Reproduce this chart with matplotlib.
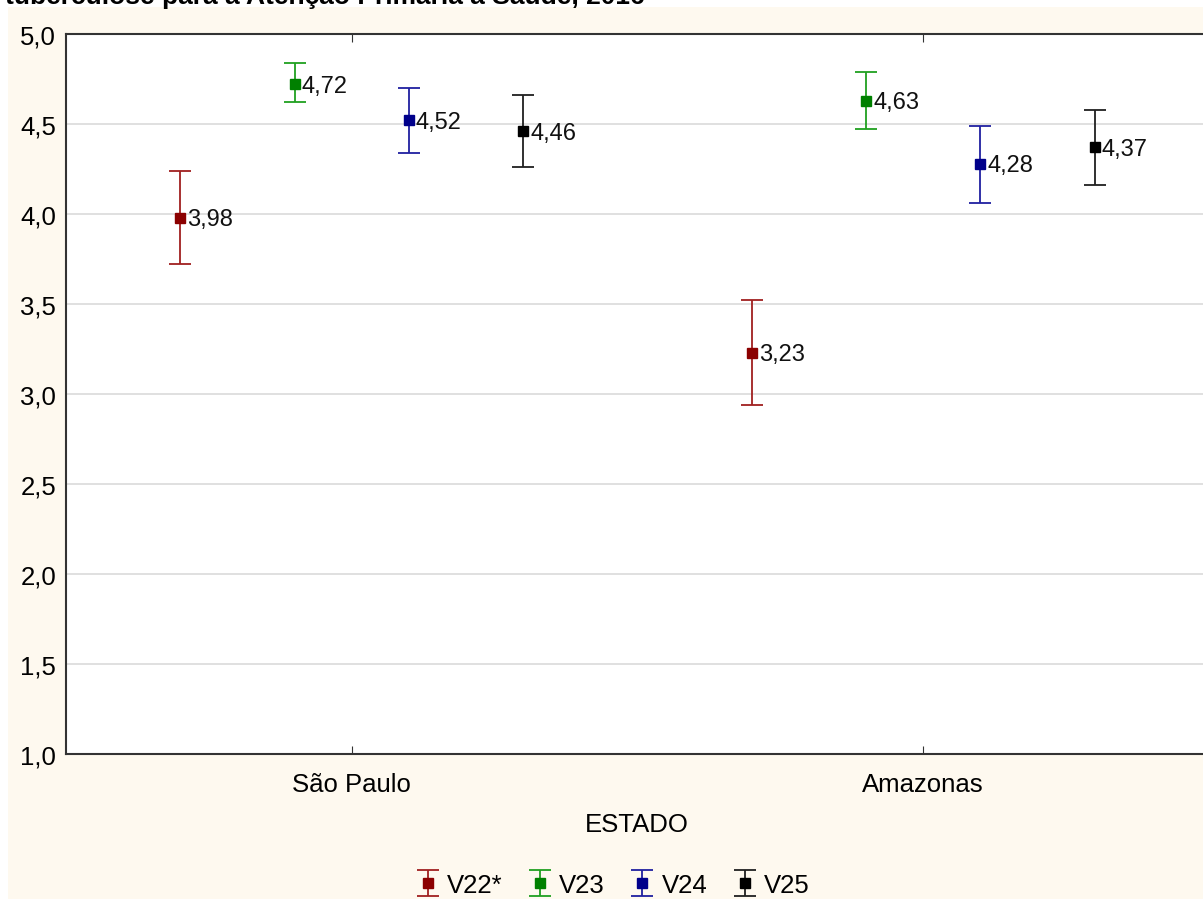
import matplotlib
matplotlib.use("Agg")
import matplotlib.pyplot as plt
from matplotlib.patches import Rectangle
import numpy as np

plt.rcParams['font.family'] = ['Liberation Sans', 'DejaVu Sans']

states = ["São Paulo", "Amazonas"]
series = ["V22*", "V23", "V24", "V25"]
means = {
    "V22*": [3.98, 3.23],
    "V23": [4.72, 4.63],
    "V24": [4.52, 4.28],
    "V25": [4.46, 4.37],
}
lower = {
    "V22*": [3.72, 2.94],
    "V23": [4.62, 4.47],
    "V24": [4.34, 4.06],
    "V25": [4.26, 4.16],
}
upper = {
    "V22*": [4.24, 3.52],
    "V23": [4.84, 4.79],
    "V24": [4.70, 4.49],
    "V25": [4.66, 4.58],
}
labels = {
    "V22*": ["3,98", "3,23"],
    "V23": ["4,72", "4,63"],
    "V24": ["4,52", "4,28"],
    "V25": ["4,46", "4,37"],
}
colors = {"V22*": "#8B0000", "V23": "#008000", "V24": "#00008B", "V25": "#000000"}
line_colors = {"V22*": "#A02020", "V23": "#20A020", "V24": "#2020A0", "V25": "#202020"}
offsets = [-0.3, -0.1, 0.1, 0.3]

W, H = 1203, 904
fig = plt.figure(figsize=(W / 100, H / 100), dpi=100, facecolor="white")
fig.patches.append(Rectangle((8 / W, 4 / H), 1 - 8 / W, 1 - 12 / H, transform=fig.transFigure,
                             facecolor="#FEF9EF", edgecolor="none", zorder=-10))

# partially visible title at top
fig.text(5 / W, 1 - 4 / H, "tuberculose para a Atenção Primária à Saúde, 2016",
         fontsize=19, fontweight="bold", ha="left", va="baseline")

left, right = 66, 1209
top, bottom = 35, 755
ax = fig.add_axes([left / W, 1 - bottom / H, (right - left) / W, (bottom - top) / H])
ax.set_facecolor("white")

x = np.arange(len(states))
for s, off in zip(series, offsets):
    m = np.array(means[s])
    lo = np.array(lower[s])
    up = np.array(upper[s])
    ax.errorbar(x + off, m, yerr=[m - lo, up - m], fmt="s", color=colors[s],
                ecolor=line_colors[s], elinewidth=1.3, capsize=8, capthick=1.3,
                markersize=7, label=s, zorder=3)
    for xi, mi, lab in zip(x + off, m, labels[s]):
        ax.annotate(lab, (xi, mi), xytext=(5, -1), textcoords="offset points",
                    ha="left", va="center", fontsize=17, color="#111111", zorder=4)

ax.set_xlim(-0.5, 1.5)
ax.set_ylim(1.0, 5.0)
yt = np.arange(1.0, 5.01, 0.5)
ax.set_yticks(yt)
ax.set_yticklabels([f"{v:.1f}".replace(".", ",") for v in yt], fontsize=18.5)
ax.set_xticks(x)
ax.set_xticklabels(states, fontsize=18.5)
ax.tick_params(axis="x", direction="in", length=6, top=True, pad=13, color="#333333")
ax.tick_params(axis="y", length=0, pad=7)
ax.grid(axis="y", color="#DDDDDD", linewidth=1.3, zorder=0)
ax.set_axisbelow(True)
for sp in ["left", "top", "bottom"]:
    ax.spines[sp].set_linewidth(1.5)
    ax.spines[sp].set_color("#333333")
ax.spines["right"].set_visible(False)

fig.text(637 / W, 1 - 825 / H, "ESTADO", fontsize=18.5, ha="center", va="center")

handles, labs = ax.get_legend_handles_labels()
fig.legend(handles, labs, loc="center", bbox_to_anchor=(613 / W, 1 - 886 / H), ncol=4,
           frameon=False, fontsize=18.5, handlelength=0.9, handletextpad=0.3,
           columnspacing=1.0)

fig.savefig("out.png", dpi=100, facecolor=fig.get_facecolor())
